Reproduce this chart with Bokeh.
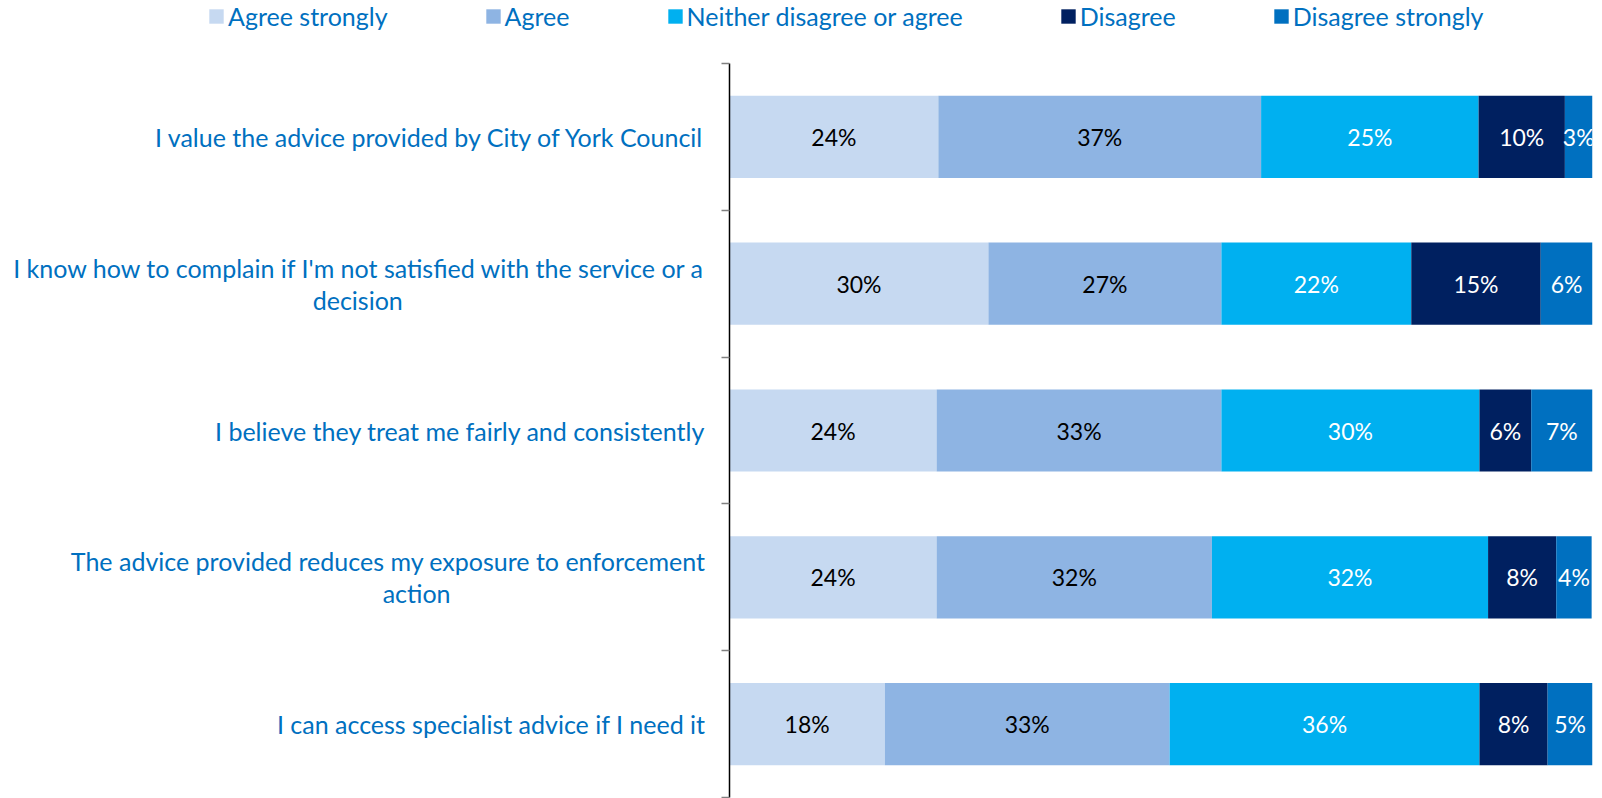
from bokeh.plotting import figure
from bokeh.models import ColumnDataSource, Range1d, FixedTicker, LinearAxis
from bokeh.core.properties import value
from bokeh.embed import file_html
from bokeh.resources import INLINE

categories = [
    ["I value the advice provided by City of York Council"],
    ["I know how to complain if I'm not satisfied with the service or a", "decision"],
    ["I believe they treat me fairly and consistently"],
    ["The advice provided reduces my exposure to enforcement", "action"],
    ["I can access specialist advice if I need it"],
]
series_names = ["Agree strongly", "Agree", "Neither disagree or agree", "Disagree", "Disagree strongly"]
agree_strongly = [24.2, 30.0, 24.0, 24.0, 18.0]
agree = [37.4, 27.0, 33.0, 31.9, 33.0]
neither = [25.2, 22.0, 29.9, 32.0, 35.9]
disagree = [10.0, 15.0, 6.0, 7.9, 7.9]
disagree_strongly = [3.2, 6.0, 7.1, 4.1, 5.2]

colors = ["#C6D9F1", "#8EB4E3", "#00B0F0", "#002060", "#0070C0"]
label_colors = ["#000000", "#000000", "#FFFFFF", "#FFFFFF", "#FFFFFF"]
FONT = "Lato"
BLUE = "#0070C0"
CAT_FS = "25px"
VAL_FS = "23px"
LEG_FS = "25px"

series = [agree_strongly, agree, neither, disagree, disagree_strongly]
keys = ["s0", "s1", "s2", "s3", "s4"]
n = len(categories)
ys = [i + 0.5 for i in range(n)]

# page layout (pixels): value axis from x=729 to x=1592, bands from y=63 to y=797
W, H = 1602, 798
AX_X, BAR_R, BAND_T, BAND_B = 729, 1592, 63, 797
px_per_x = (BAR_R - AX_X) / 100.0
px_per_y = (BAND_B - BAND_T) / n
x_start = -AX_X / px_per_x
y_top = -BAND_T / px_per_y
y_bot = n + (H - BAND_B) / px_per_y

data = {"y": ys}
for k, s in zip(keys, series):
    data[k] = s
source = ColumnDataSource(data)

p = figure(width=W, height=H, output_backend="svg", toolbar_location=None,
           x_range=Range1d(x_start, 100), y_range=Range1d(y_bot, y_top),
           x_axis_location=None, y_axis_location=None,
           min_border_left=0, min_border_right=W - BAR_R, min_border_top=0, min_border_bottom=0)
p.outline_line_color = None
p.grid.visible = False

p.hbar_stack(keys, y="y", height=0.56, color=colors, line_color=None, source=source,
             legend_label=series_names)

# value labels
for j, s in enumerate(series):
    lefts = [sum(series[m][i] for m in range(j)) for i in range(n)]
    mids = [l + v / 2 for l, v in zip(lefts, s)]
    txt = ["%d%%" % round(v) for v in s]
    src = ColumnDataSource(dict(x=mids, y=ys, t=txt))
    p.text(x="x", y="y", text="t", source=src, text_align="center", text_baseline="middle",
           text_color=label_colors[j], text_font=value(FONT), text_font_size=VAL_FS)

# category axis: line at x=0 with ticks at category boundaries, pointing left
ax = LinearAxis(ticker=FixedTicker(ticks=[], minor_ticks=list(range(n + 1))),
                fixed_location=0, bounds=(0, n))
ax.major_tick_line_color = None
ax.major_tick_in = 0
ax.major_tick_out = 0
ax.minor_tick_in = 8
ax.minor_tick_out = 0
ax.minor_tick_line_color = "#808080"
ax.minor_tick_line_width = 1.5
ax.axis_line_color = "#000000"
ax.axis_line_width = 1.5
ax.major_label_text_font_size = "0px"
ax.major_label_standoff = 0
p.add_layout(ax, "right")

# category labels: right edge 24px left of the axis, continuation lines centred
first_y, first_t, first_dy = [], [], []
second_y, second_t, second_dx = [], [], []
for y, lines in zip(ys, categories):
    first_y.append(y)
    first_t.append(lines[0])
    first_dy.append(0 if len(lines) == 1 else -16)
    if len(lines) > 1:
        second_y.append(y)
        second_t.append(lines[1])
        second_dx.append(-24 - 0.5 * 10.7 * len(lines[0]))
src1 = ColumnDataSource(dict(x=[0] * len(first_y), y=first_y, t=first_t, dy=first_dy))
p.text(x="x", y="y", text="t", source=src1, x_offset=-24, y_offset="dy",
       text_align="right", text_baseline="middle", text_color=BLUE,
       text_font=value(FONT), text_font_size=CAT_FS)
src2 = ColumnDataSource(dict(x=[0] * len(second_y), y=second_y, t=second_t, dx=second_dx))
p.text(x="x", y="y", text="t", source=src2, x_offset="dx", y_offset=16,
       text_align="center", text_baseline="middle", text_color=BLUE,
       text_font=value(FONT), text_font_size=CAT_FS)

lg = p.legend[0]
lg.orientation = "horizontal"
lg.location = (207, H - 31)
lg.padding = 0
lg.margin = 0
lg.spacing = 96
lg.glyph_width = 18
lg.glyph_height = 18
lg.label_standoff = 3
lg.label_text_font = FONT
lg.label_text_font_size = LEG_FS
lg.label_text_color = BLUE
lg.border_line_color = None
lg.background_fill_alpha = 0

open("out.html", "w").write(file_html(p, INLINE))
